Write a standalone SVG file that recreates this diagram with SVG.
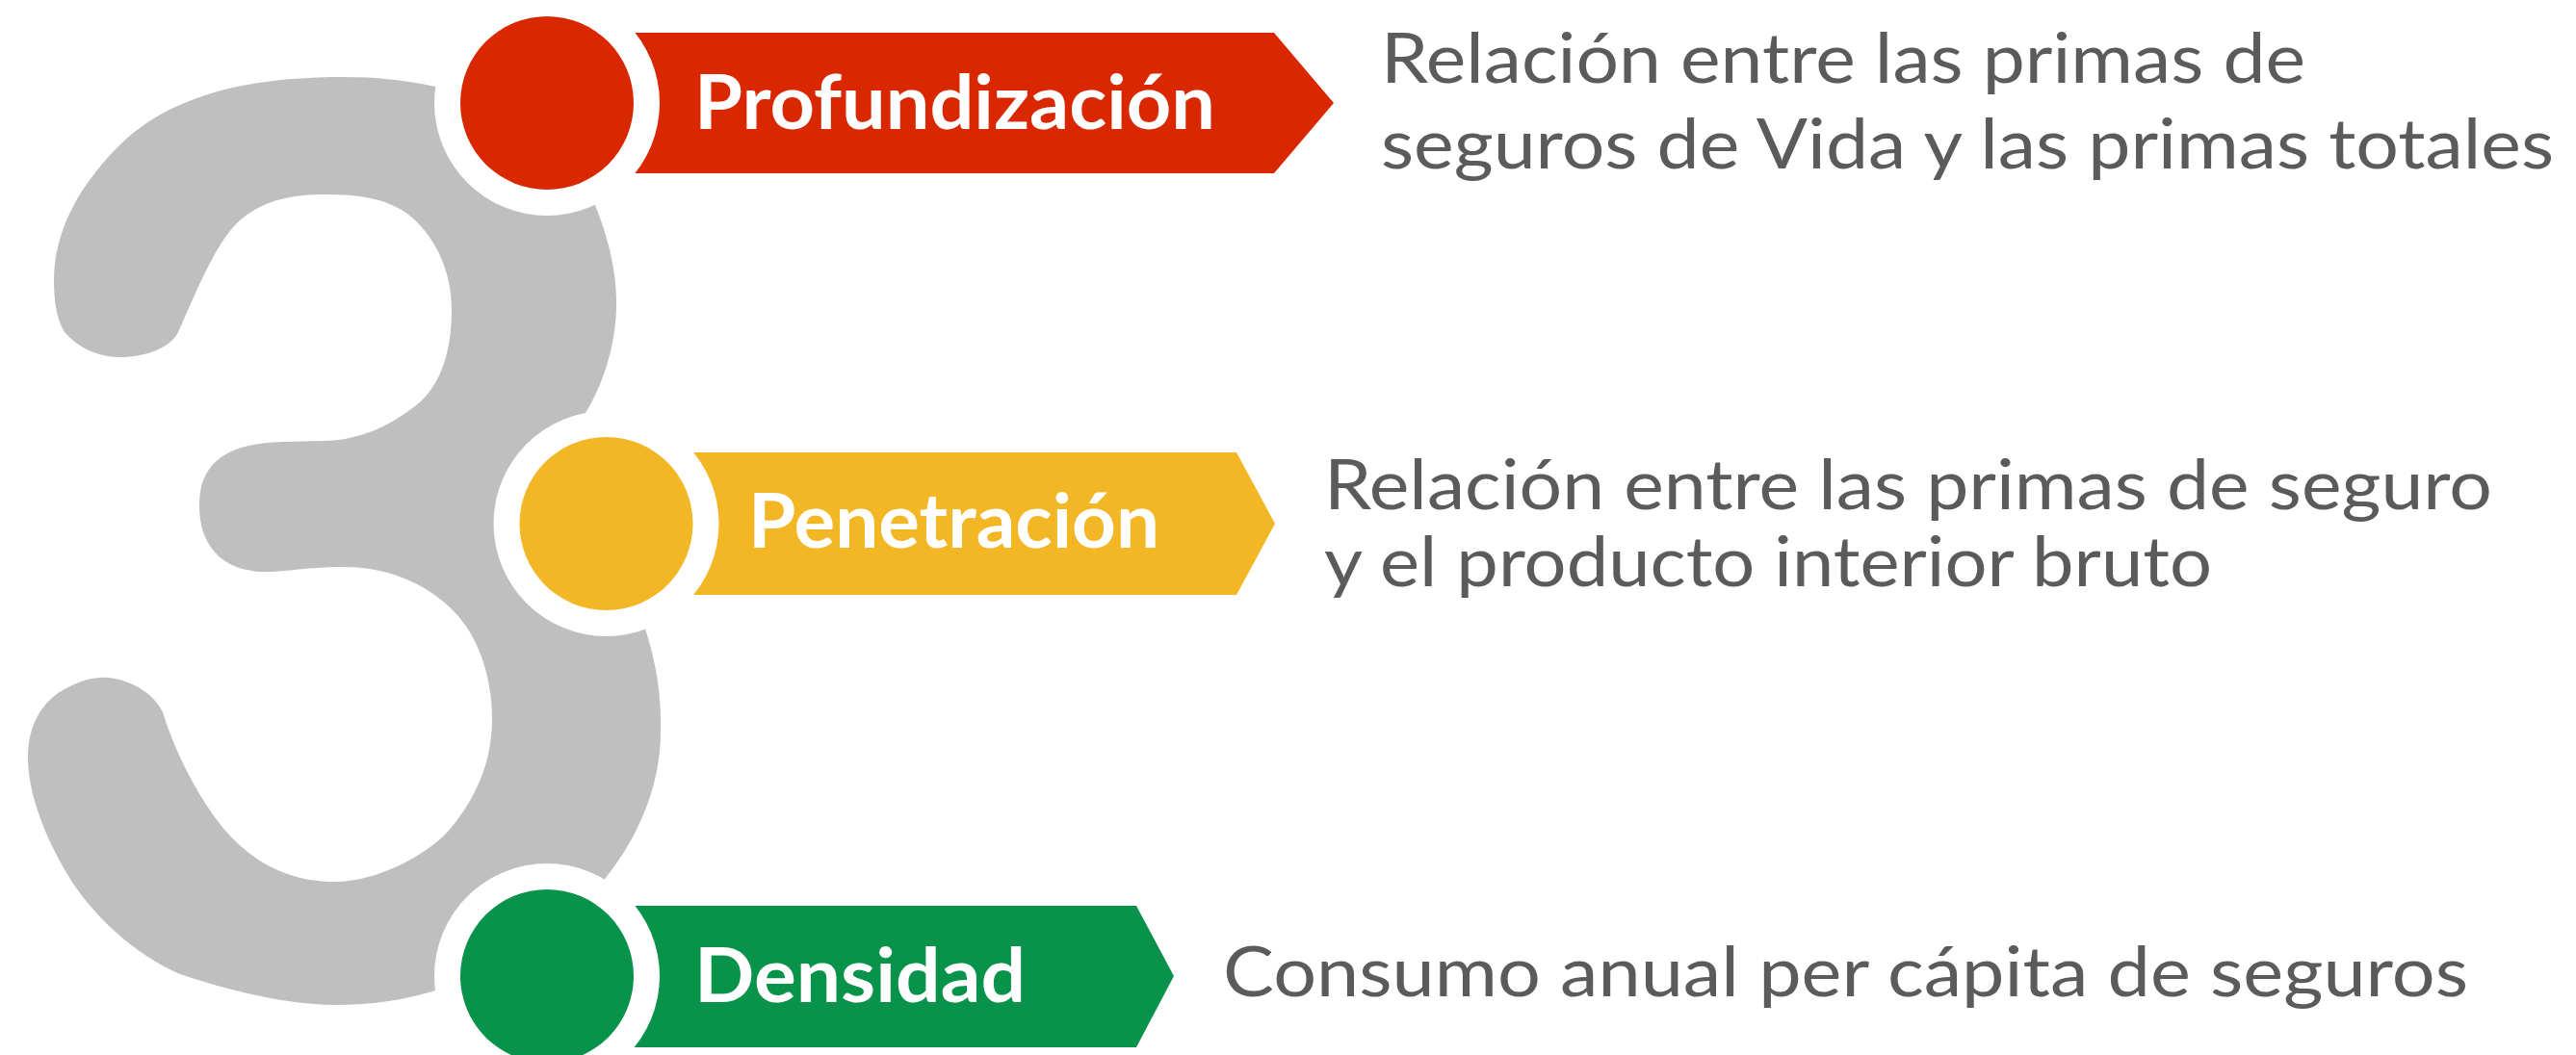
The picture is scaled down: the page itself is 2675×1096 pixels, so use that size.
<svg xmlns="http://www.w3.org/2000/svg" width="2675" height="1096" viewBox="0 0 2675 1096">
<style>
.ring{fill:#FFFFFF}
.lbl{font-family:Lato,"Open Sans","Liberation Sans",sans-serif;font-weight:700;font-size:78px;fill:#FFFFFF}
.desc{font-family:Lato,"Open Sans","Liberation Sans",sans-serif;font-weight:400;font-size:72px;fill:#5B5B5B}
</style>
<rect width="2675" height="1096" fill="#FFFFFF"/>
<g id="three">
<path fill="#BFBFBF" d="M 452 90 L 568 107 L 618 213 C 632 248, 641 285, 640 320 C 639 360, 626 400, 608 429 L 629 544 L 670 653 C 682 690, 687 725, 686 760 C 686 815, 664 868, 629 912 L 600 960 L 568 1014 L 452 1029 C 420 1039, 385 1044, 348 1044 C 300 1044, 240 1030, 187 1012 C 140 992, 95 950, 71 910 C 50 875, 30 830, 29 789 C 28 760, 40 730, 67 716 C 85 706, 100 703, 112 704 C 135 706, 160 720, 169 740 C 180 775, 200 820, 230 858 C 260 895, 300 916, 348 916 C 390 916, 440 890, 464 865 C 495 830, 511 790, 511 747 C 511 700, 495 660, 473 637 C 450 612, 410 589, 357 589 C 320 589, 295 594, 281 594 C 240 596, 207 575, 207 525 C 207 485, 230 460, 295 459 L 335 458 C 375 458, 410 440, 437 417 C 458 397, 469 365, 469 322 C 469 285, 455 255, 437 235 C 418 213, 390 202, 341 202 C 300 202, 275 208, 250 228 C 225 250, 205 300, 186 343 C 178 362, 150 371, 125 371 C 100 371, 80 360, 67 345 C 58 330, 56 310, 56 290 C 56 255, 70 215, 100 178 C 130 140, 160 117, 210 100 C 250 86, 300 80, 357 80 C 390 80, 420 83, 452 90 Z"/>
</g>
<g id="node-profundizacion">
<path fill="#D92700" d="M 620 34 L 1323 34 L 1385 107 L 1323 180 L 620 180 Z"/>
<circle class="ring" cx="568" cy="107" r="117"/>
<circle fill="#D92700" cx="568" cy="107" r="90"/>
<text class="lbl" x="721" y="134" textLength="541" lengthAdjust="spacingAndGlyphs">Profundización</text>
</g>
<g id="node-penetracion">
<path fill="#F3B725" d="M 680 470 L 1284 470 L 1324 544 L 1284 618 L 680 618 Z"/>
<circle class="ring" cx="629.5" cy="544" r="117"/>
<circle fill="#F3B725" cx="629.5" cy="544" r="90"/>
<text class="lbl" x="777" y="569" textLength="427" lengthAdjust="spacingAndGlyphs">Penetración</text>
</g>
<g id="node-densidad">
<path fill="#09924A" d="M 620 941 L 1180 941 L 1219 1014 L 1180 1088 L 620 1088 Z"/>
<circle class="ring" cx="568" cy="1014" r="117"/>
<circle fill="#09924A" cx="568" cy="1014" r="90"/>
<text class="lbl" x="721" y="1041" textLength="344" lengthAdjust="spacingAndGlyphs">Densidad</text>
</g>
<g id="desc-profundizacion">
<text class="desc" x="1434" y="86" textLength="960" lengthAdjust="spacingAndGlyphs">Relación entre las primas de</text>
<text class="desc" x="1434" y="175" textLength="1218" lengthAdjust="spacingAndGlyphs">seguros de Vida y las primas totales</text>
</g>
<g id="desc-penetracion">
<text class="desc" x="1375" y="529" textLength="1213" lengthAdjust="spacingAndGlyphs">Relación entre las primas de seguro</text>
<text class="desc" x="1375" y="609" textLength="922" lengthAdjust="spacingAndGlyphs">y el producto interior bruto</text>
</g>
<g id="desc-densidad">
<text class="desc" x="1270" y="1035" textLength="1293" lengthAdjust="spacingAndGlyphs">Consumo anual per cápita de seguros</text>
</g>
<g id="connectors"/>
</svg>
